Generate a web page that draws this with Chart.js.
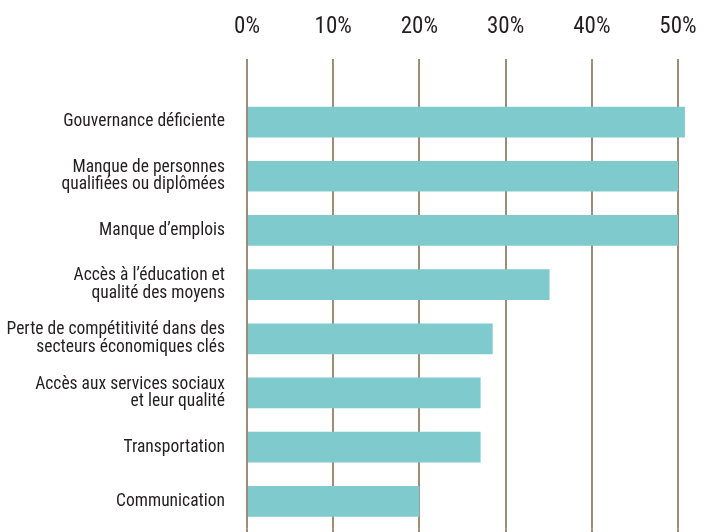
<!DOCTYPE html>
<html>
<head>
<meta charset="utf-8">
<script src="https://cdn.jsdelivr.net/npm/chart.js@4/dist/chart.umd.min.js"></script>
<style>
  html, body { margin: 0; padding: 0; background: #ffffff; }
  #wrap { width: 715px; height: 532px; }
</style>
</head>
<body>
<div id="wrap"><canvas id="myChart" width="715" height="532"></canvas></div>
<script>
var categories = [
    'Gouvernance déficiente',
    ['Manque de personnes', 'qualifiées ou diplômées'],
    'Manque d\u2019emplois',
    ['Accès à l\u2019éducation et', 'qualité des moyens'],
    ['Perte de compétitivité dans des', 'secteurs économiques clés'],
    ['Accès aux services sociaux', 'et leur qualité'],
    'Transportation',
    'Communication'
];
var shares = [50.8, 50, 50, 35.1, 28.5, 27.1, 27.1, 20];
var xTicks = [0, 10, 20, 30, 40, 50];

var barColor = '#7fcacc';
var gridColor = '#a08a78';
var textColor = '#231f20';
var fontFam = "'Roboto Condensed', 'Archivo Narrow', sans-serif";

// grid lines run down to the bottom edge of the picture
var gridToBottom = {
    id: 'gridToBottom',
    afterDraw: function (chart) {
        var ctx = chart.ctx;
        var xs = chart.scales.x;
        ctx.save();
        ctx.strokeStyle = gridColor;
        ctx.lineWidth = 2;
        xTicks.forEach(function (t) {
            var px = Math.round(xs.getPixelForValue(t));
            ctx.beginPath();
            ctx.moveTo(px, chart.chartArea.bottom);
            ctx.lineTo(px, chart.height);
            ctx.stroke();
        });
        ctx.restore();
    }
};

var data = {
    labels: categories,
    datasets: [{
        label: '',
        data: shares,
        backgroundColor: barColor,
        borderWidth: 0,
        categoryPercentage: 1,
        barPercentage: 0.567,
        clip: false
    }]
};

var config = {
    type: 'bar',
    data: data,
    options: {
        indexAxis: 'y',
        responsive: false,
        animation: false,
        layout: { padding: { top: 13, right: 37, bottom: 3.6, left: 0 } },
        plugins: {
            legend: { display: false },
            tooltip: { enabled: false }
        },
        scales: {
            x: {
                position: 'top',
                min: 0,
                max: 50,
                afterBuildTicks: function (scale) {
                    scale.ticks = xTicks.map(function (v) { return { value: v }; });
                },
                afterFit: function (scale) { scale.height = 82; },
                ticks: {
                    color: textColor,
                    padding: 18,
                    font: { family: fontFam, size: 23 },
                    callback: function (v) { return v + '%'; }
                },
                grid: { color: gridColor, lineWidth: 2, tickLength: 36 },
                border: { display: false }
            },
            y: {
                afterFit: function (scale) {
                    scale.width = 247;
                    scale.paddingTop = 0;
                    scale.paddingBottom = 0;
                },
                ticks: {
                    color: textColor,
                    padding: 22,
                    font: { family: fontFam, size: 17.5, lineHeight: 1.0 }
                },
                grid: { display: false, drawTicks: false },
                border: { display: false }
            }
        }
    },
    plugins: [gridToBottom]
};

var ctx = document.getElementById('myChart').getContext('2d');
var myChart = new Chart(ctx, config);
</script>
</body>
</html>
